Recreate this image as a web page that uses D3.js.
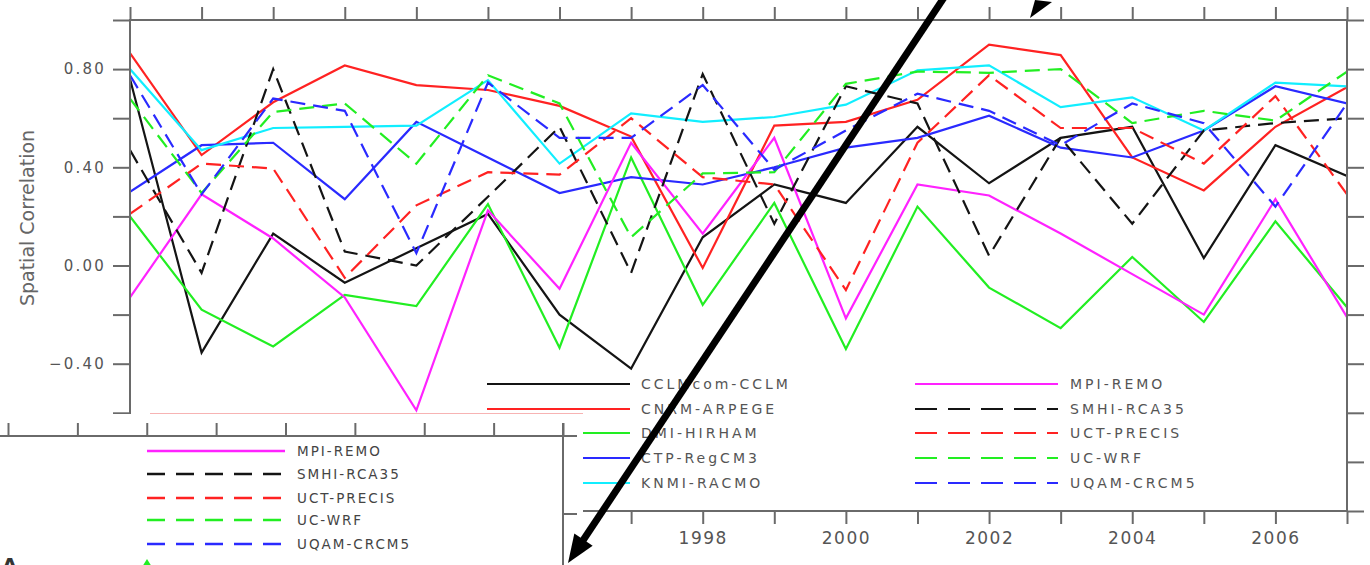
<!DOCTYPE html>
<html><head><meta charset="utf-8">
<script src="https://cdn.jsdelivr.net/npm/d3@7/dist/d3.min.js"></script>
<style>body{margin:0;background:#fff} svg{display:block}</style>
</head><body>
<svg id="c" width="1370" height="565"></svg>
<script>
// ---------- data ----------
const years = [1990,1991,1992,1993,1994,1995,1996,1997,1998,1999,2000,2001,2002,2003,2004,2005,2006,2007];
const cclm  = [0.76,-0.355,0.13,-0.07,0.07,0.21,-0.20,-0.42,0.115,0.33,0.255,0.565,0.335,0.52,0.565,0.03,0.49,0.365];
const cnrm  = [0.865,0.45,0.665,0.815,0.735,0.715,0.65,0.525,-0.01,0.57,0.585,0.675,0.90,0.857,0.44,0.306,0.565,0.726];
const dmi   = [0.20,-0.18,-0.33,-0.12,-0.165,0.25,-0.335,0.44,-0.16,0.255,-0.34,0.24,-0.09,-0.255,0.035,-0.23,0.18,-0.17];
const ctp   = [0.30,0.49,0.50,0.27,0.585,0.44,0.295,0.36,0.33,0.40,0.48,0.52,0.61,0.48,0.44,0.55,0.73,0.66];
const knmi  = [0.80,0.47,0.56,0.565,0.57,0.755,0.415,0.62,0.585,0.605,0.655,0.795,0.815,0.645,0.685,0.55,0.745,0.73];
const mpi   = [-0.13,0.29,0.11,-0.13,-0.59,0.225,-0.095,0.50,0.13,0.52,-0.215,0.33,0.285,0.13,-0.035,-0.20,0.27,-0.21];
const smhi  = [0.47,-0.03,0.80,0.057,0.0,0.28,0.565,-0.03,0.78,0.17,0.73,0.66,0.04,0.52,0.17,0.55,0.58,0.60];
const uct   = [0.21,0.415,0.395,-0.05,0.245,0.38,0.37,0.60,0.36,0.33,-0.10,0.50,0.775,0.56,0.56,0.415,0.69,0.29];
const ucwrf = [0.68,0.295,0.625,0.66,0.415,0.775,0.66,0.115,0.375,0.38,0.74,0.79,0.785,0.80,0.58,0.63,0.59,0.79];
const uqam  = [0.775,0.29,0.68,0.63,0.05,0.745,0.52,0.52,0.735,0.39,0.55,0.70,0.63,0.49,0.66,0.58,0.24,0.66];

const seriesNames = ["CCLMcom-CCLM","CNRM-ARPEGE","DMI-HIRHAM","CTP-RegCM3","KNMI-RACMO",
                     "MPI-REMO","SMHI-RCA35","UCT-PRECIS","UC-WRF","UQAM-CRCM5"];
const seriesValues = [cclm,cnrm,dmi,ctp,knmi,mpi,smhi,uct,ucwrf,uqam];
const yTickValues = [-1,-0.8,-0.6,-0.4,-0.2,0,0.2,0.4,0.6,0.8,1];
const yLabelValues = [0.8,0.4,0,-0.4];
const yLabels = ["0.80","0.40","0.00","\u22120.40"];
const xLabelYears = [1998,2000,2002,2004,2006];
const insetNames = ["MPI-REMO","SMHI-RCA35","UCT-PRECIS","UC-WRF","UQAM-CRCM5"];
const insetTicks = [0,1,2,3,4,5,6,7,8];

// ---------- styles ----------
const colors = ["#141414","#ff2222","#22ee22","#2a2aff","#11eeff","#ff22ff","#141414","#ff2222","#22ee22","#2a2aff"];
const dashed = [false,false,false,false,false,false,true,true,true,true];
const FRAME = "#6a6a6a", TXT = "#555";

const svg = d3.select("#c");
const x = d3.scaleLinear().domain([1990,2007]).range([130,1347]);
const y = d3.scaleLinear().domain([-1,1]).range([511,20]);

svg.append("defs").append("clipPath").attr("id","plot")
  .append("rect").attr("x",130).attr("y",20).attr("width",1217).attr("height",491);

// series
const line = d3.line().x((d,i)=>x(years[i])).y(d=>y(d));
const g = svg.append("g").attr("clip-path","url(#plot)");
seriesValues.forEach((vals,k)=>{
  g.append("path").attr("d",line(vals)).attr("fill","none")
   .attr("stroke",colors[k]).attr("stroke-width",2.2)
   .attr("stroke-linejoin","miter")
   .attr("stroke-dasharray",dashed[k]?"15,8":null);
});

// frame & axes
function styleAxis(sel){
  sel.select(".domain").remove();
  sel.selectAll(".tick line").attr("stroke",FRAME).attr("stroke-width",2);
  sel.selectAll(".tick text").attr("fill",TXT).attr("font-family","DejaVu Sans, sans-serif");
}
svg.append("rect").attr("x",130).attr("y",20).attr("width",1217).attr("height",491)
  .attr("fill","none").attr("stroke",FRAME).attr("stroke-width",2);

svg.append("g").attr("transform","translate(130,0)")
  .call(d3.axisLeft(y).tickValues(yTickValues).tickSize(17).tickPadding(7)
        .tickFormat(d=>{const i=yLabelValues.findIndex(v=>Math.abs(v-d)<1e-9);return i>=0?yLabels[i]:"";}))
  .call(styleAxis)
  .call(s=>s.selectAll(".tick text").attr("font-size",15).attr("letter-spacing","2.2px"));
svg.append("g").attr("transform","translate(1347,0)")
  .call(d3.axisRight(y).tickValues(yTickValues).tickSize(17).tickFormat(""))
  .call(styleAxis);
svg.append("g").attr("transform","translate(0,20)")
  .call(d3.axisTop(x).tickValues(years).tickSize(13).tickFormat(""))
  .call(styleAxis);
svg.append("g").attr("transform","translate(0,511)")
  .call(d3.axisBottom(x).tickValues(years).tickSize(13).tickPadding(8)
        .tickFormat(d=>xLabelYears.includes(d)?String(d):""))
  .call(styleAxis)
  .call(s=>s.selectAll(".tick text").attr("font-size",17).attr("letter-spacing","1.5px"));

svg.append("text").attr("transform","translate(34,218) rotate(-90)")
  .attr("text-anchor","middle").attr("font-family","DejaVu Sans, sans-serif")
  .attr("font-size",19).attr("fill","#666").text("Spatial Correlation");

// main legend
const legCols = [{x1:487,x2:630,tx:641},{x1:915,x2:1058,tx:1070}];
const legRows = [384,409,433,458,483];
seriesNames.forEach((name,k)=>{
  const c = legCols[Math.floor(k/5)], ry = legRows[k%5];
  svg.append("line").attr("x1",c.x1).attr("x2",c.x2).attr("y1",ry).attr("y2",ry)
    .attr("stroke",colors[k]).attr("stroke-width",2.2)
    .attr("stroke-dasharray",dashed[k]?"22,11":null);
  svg.append("text").attr("x",c.tx).attr("y",ry+5).attr("font-family","DejaVu Sans, sans-serif")
    .attr("font-size",14).attr("letter-spacing","3px").attr("fill",TXT).text(name);
});

// ---------- pasted inset fragment (lower-left) ----------
const ov = svg.append("g");
ov.append("rect").attr("x",0).attr("y",414).attr("width",583).attr("height",151).attr("fill","#fff");
ov.append("line").attr("x1",150).attr("x2",583).attr("y1",413.5).attr("y2",413.5)
  .attr("stroke","#f7b3b3").attr("stroke-width",1);
const xo = d3.scaleLinear().domain([0,8]).range([8,563]);
ov.append("line").attr("x1",0).attr("x2",577).attr("y1",436).attr("y2",436)
  .attr("stroke",FRAME).attr("stroke-width",2);
ov.append("g").attr("transform","translate(0,436)")
  .call(d3.axisTop(xo).tickValues(insetTicks).tickSize(13).tickFormat(""))
  .call(styleAxis);
ov.append("line").attr("x1",563).attr("x2",563).attr("y1",423).attr("y2",565)
  .attr("stroke",FRAME).attr("stroke-width",2);
ov.append("line").attr("x1",563).attr("x2",577).attr("y1",514).attr("y2",514)
  .attr("stroke",FRAME).attr("stroke-width",2);
const insetRows = [451,474,498,520,544];
insetNames.forEach((name,i)=>{
  const k = 5+i;
  ov.append("line").attr("x1",147).attr("x2",285).attr("y1",insetRows[i]).attr("y2",insetRows[i])
    .attr("stroke",colors[k]).attr("stroke-width",2.4)
    .attr("stroke-dasharray",dashed[k]?"18,11":null);
  ov.append("text").attr("x",297).attr("y",insetRows[i]+5).attr("font-family","DejaVu Sans, sans-serif")
    .attr("font-size",13.5).attr("letter-spacing","2px").attr("fill","#444").text(name);
});
ov.append("text").attr("x",2).attr("y",572).attr("font-family","DejaVu Sans, sans-serif")
  .attr("font-size",20).attr("font-weight","bold").attr("fill","#333").text("A");
ov.append("path").attr("d","M147,559 L142,567 L152,567 Z").attr("fill","#22ee22");

// ---------- arrows ----------
const tip = [568,563], start = [945,-4];
const dx = tip[0]-start[0], dy = tip[1]-start[1], L = Math.hypot(dx,dy);
const ux = dx/L, uy = dy/L, nx = -uy, ny = ux;
const hl = 28, hw = 11;
const bx = tip[0]-hl*ux, by = tip[1]-hl*uy;
svg.append("line").attr("x1",start[0]).attr("y1",start[1]).attr("x2",bx+4*ux).attr("y2",by+4*uy)
  .attr("stroke","#000").attr("stroke-width",7);
svg.append("path").attr("d",`M${tip[0]},${tip[1]} L${bx+hw*nx},${by+hw*ny} L${bx-hw*nx},${by-hw*ny} Z`)
  .attr("fill","#000");
svg.append("path").attr("d","M1030,18 L1035,0 L1052,2 Z").attr("fill","#000");
</script>
</body></html>
